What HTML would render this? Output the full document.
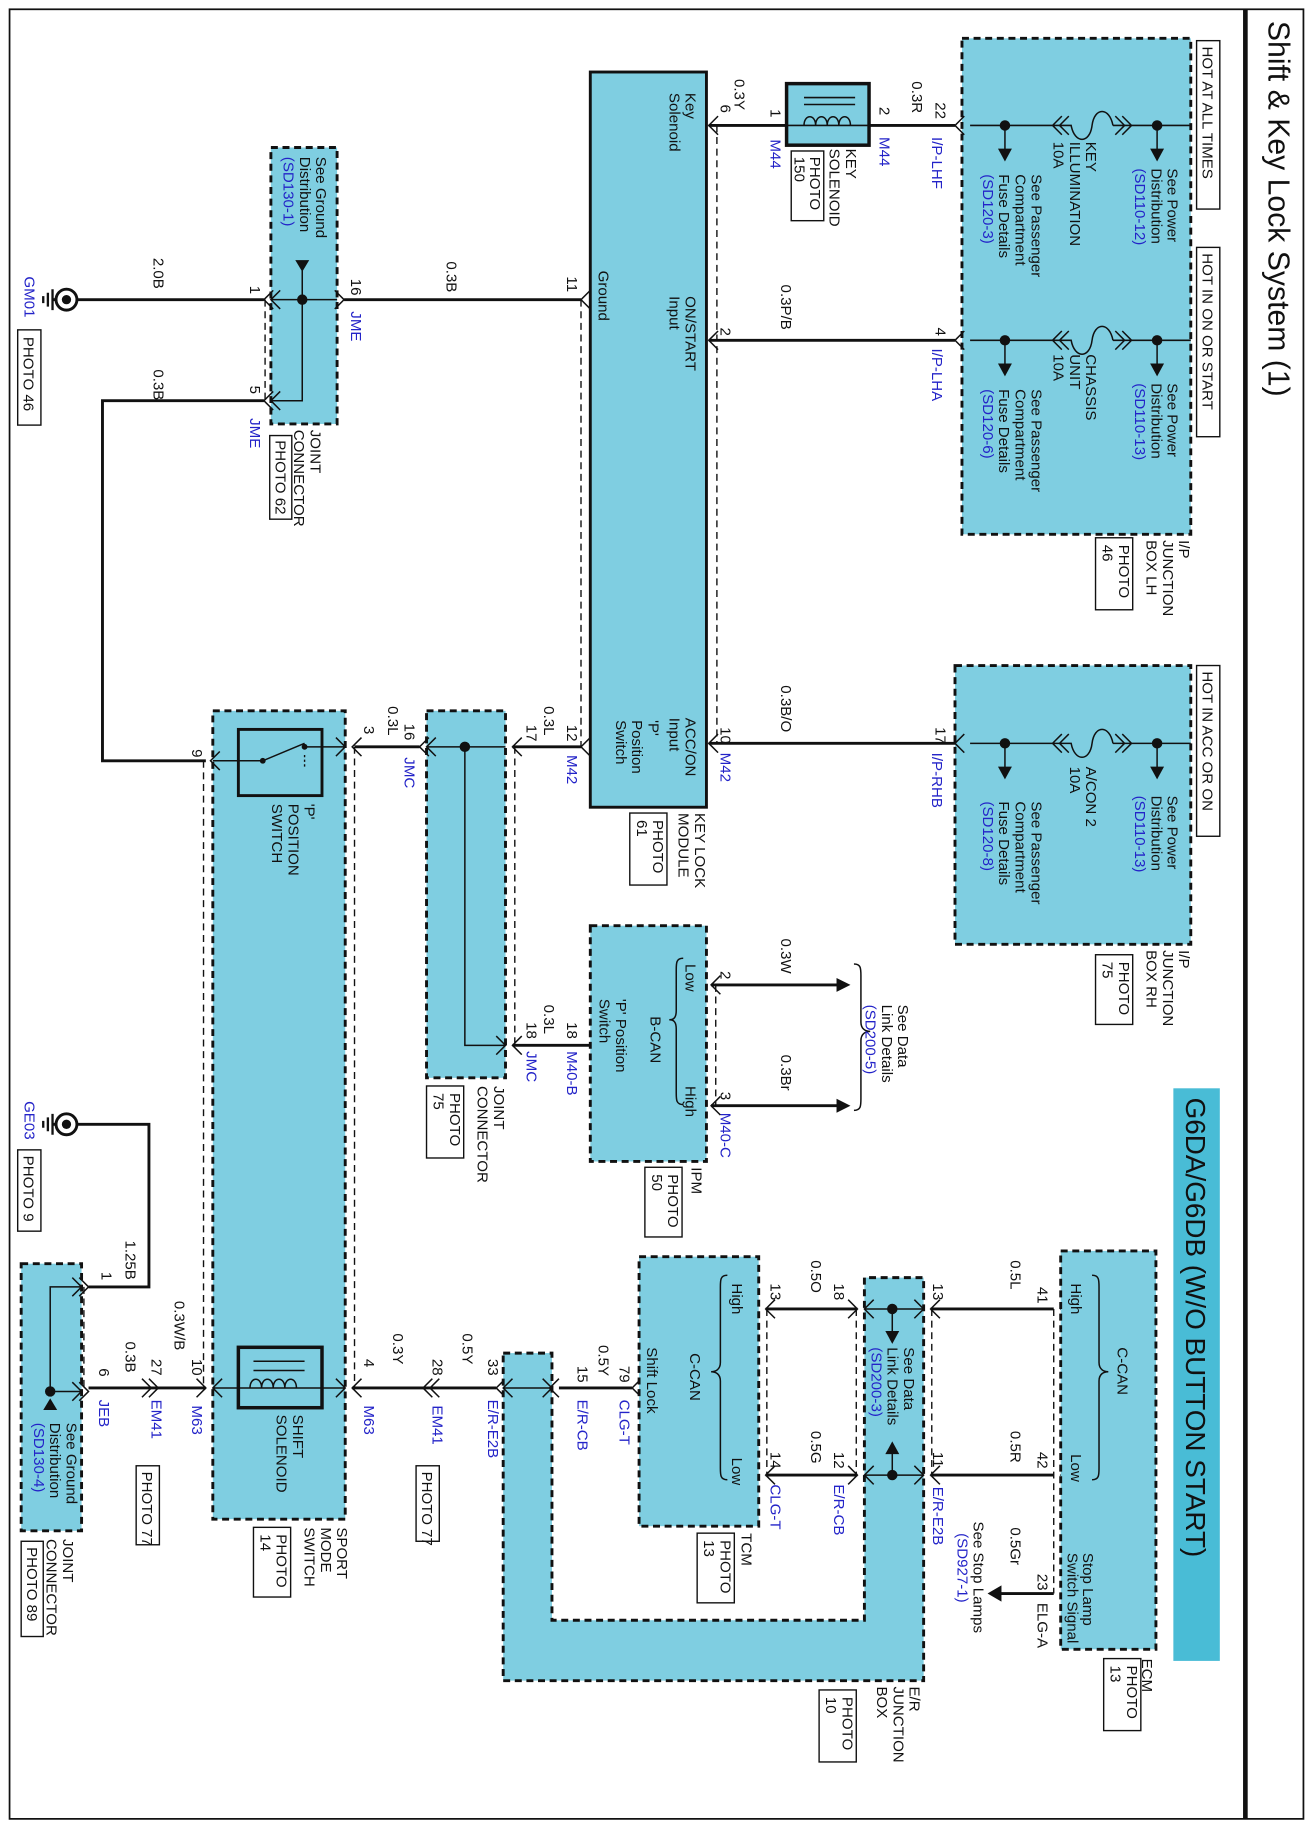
<!DOCTYPE html>
<html><head><meta charset="utf-8"><style>
html,body{margin:0;padding:0;background:#fff;width:1313px;height:1827px;overflow:hidden;position:relative}
svg{display:block;position:absolute;left:0;top:0}
text{font-family:"Liberation Sans",Arial,sans-serif;font-size:13px;fill:#111}
.b{fill:#2323c8}
.t{fill:#7fcee1;stroke:#111;stroke-width:2.5;stroke-dasharray:6 4}
.s{fill:#7fcee1;stroke:#111;stroke-width:2.5}
.w{fill:none;stroke:#111;stroke-width:2.5}
.n{fill:none;stroke:#111;stroke-width:1.3}
.d{fill:none;stroke:#111;stroke-width:1.2;stroke-dasharray:6 4}
.bx{fill:#fff;stroke:#111;stroke-width:1.2}
</style></head><body>
<svg width="1313" height="1827" viewBox="0 0 1130 1573" xmlns="http://www.w3.org/2000/svg" overflow="hidden">
<rect x="8" y="8" width="1114" height="1558" fill="none" stroke="#111" stroke-width="1.5"/>
<line x1="1072" y1="8" x2="1072" y2="1566" stroke="#111" stroke-width="4"/>
<text transform="translate(1092 18) rotate(90)" style="font-size:26px">Shift &amp; Key Lock System (1)</text>
<text transform="translate(1092 1690) rotate(90)" style="font-size:26px">SD452-1</text>
<rect x="1010" y="937" width="40" height="493" fill="#49bcd6"/>
<text transform="translate(1021 945) rotate(90)" style="font-size:24px">G6DA/G6DB (W/O BUTTON START)</text>

<!-- JB LH -->
<rect class="t" x="828" y="33" width="197" height="427"/>
<rect class="bx" x="1030" y="35" width="20" height="145"/>
<text transform="translate(1035 40) rotate(90)">HOT AT ALL TIMES</text>
<rect class="bx" x="1030" y="213" width="20" height="163"/>
<text transform="translate(1035 218) rotate(90)">HOT IN ON OR START</text>
<g id="fz">
<path class="n" d="M1025 108H975M966 100l8 8-8 8M960 100l8 8-8 8M975 108H958M958 108C955 92 942 92 940 108C938 124 925 124 922 108H905M914 100l-8 8 8 8M920 100l-8 8 8 8M905 108H835"/>
<circle cx="996" cy="108" r="4.5" fill="#111"/><path class="n" d="M996 108V130"/><path d="M990 128h12l-6 11z" fill="#111"/>
<circle cx="865" cy="108" r="4.5" fill="#111"/><path class="n" d="M865 108V130"/><path d="M859 128h12l-6 11z" fill="#111"/>
</g>
<use href="#fz" transform="translate(0 185)"/>
<text transform="translate(1005 145) rotate(90)">See Power<tspan x="0" dy="14">Distribution</tspan><tspan class="b" x="0" dy="14">(SD110-12)</tspan></text>
<text transform="translate(935 122) rotate(90)">KEY<tspan x="0" dy="14">ILLUMINATION</tspan><tspan x="0" dy="14">10A</tspan></text>
<text transform="translate(888 150) rotate(90)">See Passenger<tspan x="0" dy="14">Compartment</tspan><tspan x="0" dy="14">Fuse Details</tspan><tspan class="b" x="0" dy="14">(SD120-3)</tspan></text>
<text transform="translate(1005 330) rotate(90)">See Power<tspan x="0" dy="14">Distribution</tspan><tspan class="b" x="0" dy="14">(SD110-13)</tspan></text>
<text transform="translate(935 305) rotate(90)">CHASSIS<tspan x="0" dy="14">UNIT</tspan><tspan x="0" dy="14">10A</tspan></text>
<text transform="translate(888 335) rotate(90)">See Passenger<tspan x="0" dy="14">Compartment</tspan><tspan x="0" dy="14">Fuse Details</tspan><tspan class="b" x="0" dy="14">(SD120-6)</tspan></text>
<text transform="translate(1015 465) rotate(90)">I/P<tspan x="0" dy="14">JUNCTION</tspan><tspan x="0" dy="14">BOX LH</tspan></text>
<rect class="bx" x="943" y="463" width="32" height="62"/>
<text transform="translate(963 469) rotate(90)">PHOTO<tspan x="0" dy="14">46</tspan></text>

<!-- JB RH -->
<rect class="t" x="822" y="573" width="203" height="240"/>
<use href="#fz" transform="translate(0 532)"/>
<rect class="bx" x="1030" y="573" width="20" height="147"/>
<text transform="translate(1035 578) rotate(90)">HOT IN ACC OR ON</text>
<text transform="translate(1005 685) rotate(90)">See Power<tspan x="0" dy="14">Distribution</tspan><tspan class="b" x="0" dy="14">(SD110-13)</tspan></text>
<text transform="translate(935 660) rotate(90)">A/CON 2<tspan x="0" dy="14">10A</tspan></text>
<text transform="translate(888 690) rotate(90)">See Passenger<tspan x="0" dy="14">Compartment</tspan><tspan x="0" dy="14">Fuse Details</tspan><tspan class="b" x="0" dy="14">(SD120-8)</tspan></text>
<text transform="translate(1015 818) rotate(90)">I/P<tspan x="0" dy="14">JUNCTION</tspan><tspan x="0" dy="14">BOX RH</tspan></text>
<rect class="bx" x="943" y="822" width="32" height="60"/>
<text transform="translate(963 828) rotate(90)">PHOTO<tspan x="0" dy="14">75</tspan></text>

<!-- Key lock module -->
<rect class="s" x="508" y="62" width="100" height="633"/>
<path class="w" d="M610 108H677M748 108H822M610 293H822M610 640H822M500 258H296M500 643H441M227 258H65M227 345H88V655H177"/>
<path class="n" d="M618 100l-8 8 8 8M830 100l-8 8 8 8M685 100l-8 8 8 8M740 100l8 8-8 8M618 285l-8 8 8 8M830 285l-8 8 8 8M618 632l-8 8 8 8M830 632l-8 8 8 8M508 250l-8 8 8 8M508 635l-8 8 8 8"/>
<path class="d" d="M617 108V640M500 258V643"/>
<text transform="translate(590 80) rotate(90)">Key<tspan x="0" dy="14">Solenoid</tspan></text>
<text transform="translate(515 233) rotate(90)">Ground</text>
<text transform="translate(590 255) rotate(90)">ON/START<tspan x="0" dy="14">Input</tspan></text>
<text transform="translate(590 618) rotate(90)">ACC/ON<tspan x="0" dy="14">Input</tspan></text>
<text transform="translate(558 620) rotate(90)">'P'<tspan x="0" dy="14">Position</tspan><tspan x="0" dy="14">Switch</tspan></text>
<text transform="translate(598 700) rotate(90)">KEY LOCK<tspan x="0" dy="14">MODULE</tspan></text>
<rect class="bx" x="542" y="700" width="32" height="62"/>
<text transform="translate(562 706) rotate(90)">PHOTO<tspan x="0" dy="14">61</tspan></text>
<text transform="translate(805 88) rotate(90)">22</text>
<text transform="translate(785 70) rotate(90)">0.3R</text>
<text class="b" transform="translate(802 118) rotate(90)">I/P-LHF</text>
<text transform="translate(757 92) rotate(90)">2</text>
<text class="b" transform="translate(757 118) rotate(90)">M44</text>
<text transform="translate(663 94) rotate(90)">1</text>
<text class="b" transform="translate(663 120) rotate(90)">M44</text>
<text transform="translate(632 68) rotate(90)">0.3Y</text>
<text transform="translate(620 90) rotate(90)">6</text>
<text transform="translate(620 282) rotate(90)">2</text>
<text transform="translate(672 245) rotate(90)">0.3P/B</text>
<text transform="translate(805 282) rotate(90)">4</text>
<text class="b" transform="translate(802 300) rotate(90)">I/P-LHA</text>
<text transform="translate(488 238) rotate(90)">11</text>
<text transform="translate(384 225) rotate(90)">0.3B</text>
<text transform="translate(620 626) rotate(90)">10</text>
<text class="b" transform="translate(620 648) rotate(90)">M42</text>
<text transform="translate(672 590) rotate(90)">0.3B/O</text>
<text transform="translate(805 626) rotate(90)">17</text>
<text class="b" transform="translate(802 648) rotate(90)">I/P-RHB</text>
<text transform="translate(488 624) rotate(90)">12</text>
<text class="b" transform="translate(488 650) rotate(90)">M42</text>
<text transform="translate(453 624) rotate(90)">17</text>
<text transform="translate(468 608) rotate(90)">0.3L</text>

<!-- key solenoid -->
<rect x="677" y="72" width="71" height="53" fill="#7fcee1" stroke="#111" stroke-width="3"/>
<path class="n" d="M677 108H748M692 108c0-10 10-10 10 0c0-10 10-10 10 0c0-10 10-10 10 0c0-10 10-10 10 0M692 84H736M692 90H736"/>
<text transform="translate(728 128) rotate(90)">KEY<tspan x="0" dy="14">SOLENOID</tspan></text>
<rect class="bx" x="681" y="130" width="28" height="60"/>
<text transform="translate(697 135) rotate(90)">PHOTO<tspan x="0" dy="13">150</tspan></text>

<!-- JME -->
<rect class="t" x="233" y="127" width="57" height="238"/>
<path class="n" d="M290 258H233M260 258V345H233M260 258V232M288 250l8 8-8 8M241 250l-8 8 8 8M241 337l-8 8 8 8M235 250l-8 8 8 8M235 337l-8 8 8 8"/>
<path class="d" d="M228 258V345"/>
<circle cx="260" cy="258" r="4.5" fill="#111"/><path d="M254 224h12l-6 10z" fill="#111"/>
<text transform="translate(272 135) rotate(90)">See Ground<tspan x="0" dy="14">Distribution</tspan><tspan class="b" x="0" dy="14">(SD130-1)</tspan></text>
<text transform="translate(302 240) rotate(90)">16</text>
<text class="b" transform="translate(302 268) rotate(90)">JME</text>
<text transform="translate(215 246) rotate(90)">1</text>
<text transform="translate(215 332) rotate(90)">5</text>
<text class="b" transform="translate(215 360) rotate(90)">JME</text>
<text transform="translate(132 222) rotate(90)">2.0B</text>
<text transform="translate(132 318) rotate(90)">0.3B</text>
<text transform="translate(267 370) rotate(90)">JOINT<tspan x="0" dy="14">CONNECTOR</tspan></text>
<rect class="bx" x="232" y="375" width="19" height="72"/>
<text transform="translate(237 379) rotate(90)">PHOTO 62</text>

<!-- grounds -->
<g id="gnd"><circle cx="57" cy="258" r="9" fill="#fff" stroke="#111" stroke-width="2.5"/><circle cx="57" cy="258" r="4" fill="#111"/>
<path class="w" d="M48 258H45" /><path stroke="#111" stroke-width="2" d="M45 249V267M41 252V264M37 255V261"/></g>
<text class="b" transform="translate(21 238) rotate(90)">GM01</text>
<rect class="bx" x="15" y="284" width="20" height="82"/>
<text transform="translate(20 290) rotate(90)">PHOTO 46</text>
<use href="#gnd" transform="translate(0 710)"/>
<text class="b" transform="translate(21 948) rotate(90)">GE03</text>
<rect class="bx" x="15" y="990" width="20" height="70"/>
<text transform="translate(20 995) rotate(90)">PHOTO 9</text>

<!-- JMC -->
<rect class="t" x="367" y="612" width="68" height="316"/>
<path class="n" d="M435 643H367M400 643V900H435M427 892l8 8-8 8M375 635l-8 8 8 8"/>
<circle cx="400" cy="643" r="4.5" fill="#111"/>
<path class="w" d="M361 643H305M441 900H508"/>
<path class="n" d="M449 635l-8 8 8 8M449 892l-8 8 8 8M369 635l-8 8 8 8M516 892l-8 8 8 8M311 635l-8 8 8 8"/>
<path class="d" d="M443 643V900"/>
<text transform="translate(348 623) rotate(90)">16</text>
<text class="b" transform="translate(348 652) rotate(90)">JMC</text>
<text transform="translate(334 608) rotate(90)">0.3L</text>
<text transform="translate(313 625) rotate(90)">3</text>
<text transform="translate(453 880) rotate(90)">18</text>
<text class="b" transform="translate(453 905) rotate(90)">JMC</text>
<text transform="translate(468 865) rotate(90)">0.3L</text>
<text transform="translate(488 880) rotate(90)">18</text>
<text class="b" transform="translate(488 905) rotate(90)">M40-B</text>
<text transform="translate(425 935) rotate(90)">JOINT<tspan x="0" dy="14">CONNECTOR</tspan></text>
<rect class="bx" x="367" y="935" width="32" height="62"/>
<text transform="translate(387 941) rotate(90)">PHOTO<tspan x="0" dy="14">75</tspan></text>

<!-- IPM -->
<rect class="t" x="508" y="797" width="100" height="203"/>
<path class="w" d="M612 848H722M612 952H722"/>
<path d="M720 842v12l12-6zM720 946v12l12-6z" fill="#111"/>
<path class="n" d="M620 840l-8 8 8 8M620 944l-8 8 8 8M735 830c6 0 6 4 6 10v40c0 6 4 8 8 8c-4 0-8 2-8 8v50c0 6 0 10-6 10M588 825c-6 0-6 4-6 10v35c0 6-2 8-6 8c4 0 6 2 6 8v55c0 6 0 10 6 10"/>
<path class="d" d="M616 848V952"/>
<text transform="translate(620 836) rotate(90)">2</text>
<text transform="translate(620 940) rotate(90)">3</text>
<text class="b" transform="translate(620 958) rotate(90)">M40-C</text>
<text transform="translate(672 808) rotate(90)">0.3W</text>
<text transform="translate(672 908) rotate(90)">0.3Br</text>
<text transform="translate(773 865) rotate(90)">See Data<tspan x="0" dy="14">Link Details</tspan><tspan class="b" x="0" dy="14">(SD200-5)</tspan></text>
<text transform="translate(590 830) rotate(90)">Low</text>
<text transform="translate(560 875) rotate(90)">B-CAN</text>
<text transform="translate(590 935) rotate(90)">High</text>
<text transform="translate(530 860) rotate(90)">'P' Position<tspan x="0" dy="14">Switch</tspan></text>
<text transform="translate(595 1005) rotate(90)">IPM</text>
<rect class="bx" x="555" y="1005" width="32" height="60"/>
<text transform="translate(575 1011) rotate(90)">PHOTO<tspan x="0" dy="14">50</tspan></text>

<!-- Sport mode switch -->
<rect class="t" x="183" y="612" width="114" height="696"/>
<path class="d" d="M175 655V1195M305 643V1195"/>
<rect x="205" y="628" width="72" height="57" fill="none" stroke="#111" stroke-width="2.5"/>
<path class="n" d="M183 655H226L262 640M297 643H262M189 647l-8 8 8 8M289 635l8 8-8 8"/>
<circle cx="226" cy="655" r="2.5" fill="#111"/><circle cx="262" cy="643" r="2.5" fill="#111"/>
<path stroke="#111" stroke-width="1.2" stroke-dasharray="2 2" fill="none" d="M262 650V662"/>
<text transform="translate(262 692) rotate(90)">'P'<tspan x="0" dy="14">POSITION</tspan><tspan x="0" dy="14">SWITCH</tspan></text>
<rect x="205" y="1160" width="72" height="52" fill="none" stroke="#111" stroke-width="3"/>
<path class="n" d="M183 1195H297M215 1195c0-10 10-10 10 0c0-10 10-10 10 0c0-10 10-10 10 0c0-10 10-10 10 0M218 1172H262M218 1180H262M191 1187l-8 8 8 8M289 1187l8 8-8 8"/>
<text transform="translate(252 1218) rotate(90)">SHIFT<tspan x="0" dy="14">SOLENOID</tspan></text>
<text transform="translate(290 1315) rotate(90)">SPORT<tspan x="0" dy="14">MODE</tspan><tspan x="0" dy="14">SWITCH</tspan></text>
<rect class="bx" x="218" y="1315" width="32" height="60"/>
<text transform="translate(238 1321) rotate(90)">PHOTO<tspan x="0" dy="14">14</tspan></text>
<text transform="translate(165 645) rotate(90)">9</text>
<path class="w" d="M76 1195H177M303 1195H427"/>
<path class="n" d="M169 1187l8 8-8 8M311 1187l-8 8 8 8M122 1187l8 8-8 8M128 1187l8 8-8 8M378 1187l-8 8 8 8M372 1187l-8 8 8 8M435 1187l-8 8 8 8"/>
<text transform="translate(313 1170) rotate(90)">4</text>
<text class="b" transform="translate(313 1210) rotate(90)">M63</text>
<text transform="translate(338 1148) rotate(90)">0.3Y</text>
<text transform="translate(372 1170) rotate(90)">28</text>
<text class="b" transform="translate(372 1210) rotate(90)">EM41</text>
<rect class="bx" x="358" y="1262" width="20" height="65"/>
<text transform="translate(363 1267) rotate(90)">PHOTO 77</text>
<text transform="translate(398 1148) rotate(90)">0.5Y</text>
<text transform="translate(420 1170) rotate(90)">33</text>
<text class="b" transform="translate(420 1205) rotate(90)">E/R-E2B</text>
<text transform="translate(165 1170) rotate(90)">10</text>
<text class="b" transform="translate(165 1210) rotate(90)">M63</text>
<text transform="translate(150 1120) rotate(90)">0.3W/B</text>
<text transform="translate(130 1170) rotate(90)">27</text>
<text class="b" transform="translate(130 1205) rotate(90)">EM41</text>
<rect class="bx" x="117" y="1262" width="20" height="68"/>
<text transform="translate(122 1267) rotate(90)">PHOTO 77</text>
<text transform="translate(108 1155) rotate(90)">0.3B</text>
<text transform="translate(85 1178) rotate(90)">6</text>
<text class="b" transform="translate(85 1205) rotate(90)">JEB</text>

<!-- JEB -->
<rect class="t" x="18" y="1088" width="52" height="230"/>
<path class="n" d="M43 1198H70M43 1198V1108H70M62 1100l8 8-8 8M62 1190l8 8-8 8M68 1100l8 8-8 8M68 1190l8 8-8 8"/>
<circle cx="43" cy="1198" r="4.5" fill="#111"/><path d="M37 1214h12l-6-10z" fill="#111"/>
<path class="w" d="M76 1108H128V968H66"/>
<path class="d" d="M72 1108V1198"/>
<text transform="translate(108 1068) rotate(90)">1.25B</text>
<text transform="translate(87 1095) rotate(90)">1</text>
<text transform="translate(57 1225) rotate(90)">See Ground<tspan x="0" dy="14">Distribution</tspan><tspan class="b" x="0" dy="14">(SD130-4)</tspan></text>
<text transform="translate(54 1325) rotate(90)">JOINT<tspan x="0" dy="14">CONNECTOR</tspan></text>
<rect class="bx" x="18" y="1327" width="19" height="82"/>
<text transform="translate(23 1332) rotate(90)">PHOTO 89</text>

<!-- E/R junction box -->
<path class="t" d="M433 1165H475V1395H744V1100H795V1447H433Z"/>
<path class="n" d="M433 1195H475M441 1187l-8 8 8 8M467 1187l8 8-8 8M744 1127H795M744 1270H795M752 1119l-8 8 8 8M752 1262l-8 8 8 8M787 1119l8 8-8 8M787 1262l8 8-8 8M768 1127V1150M768 1270V1248"/>
<circle cx="768" cy="1127" r="4.5" fill="#111"/><circle cx="768" cy="1270" r="4.5" fill="#111"/>
<path d="M762 1146h12l-6 11zM762 1252h12l-6-11z" fill="#111"/>
<path class="w" d="M801 1127H907M801 1270H907M738 1127H659M738 1270H659M544 1195H481M907 1372H860"/>
<path d="M862 1365v14l-12-7z" fill="#111"/>
<path class="n" d="M809 1119l-8 8 8 8M809 1262l-8 8 8 8M730 1119l8 8-8 8M730 1262l8 8-8 8M667 1119l-8 8 8 8M667 1262l-8 8 8 8M921 1119l-8 8 8 8M921 1262l-8 8 8 8M921 1364l-8 8 8 8M552 1187l-8 8 8 8M481 1187l-8 8 8 8"/>
<path class="d" d="M660 1127V1270M737 1127V1270M802 1127V1270M907 1127V1372"/>
<text transform="translate(778 1160) rotate(90)">See Data<tspan x="0" dy="14">Link Details</tspan><tspan class="b" x="0" dy="14">(SD200-3)</tspan></text>
<text transform="translate(803 1105) rotate(90)">13</text>
<text transform="translate(870 1085) rotate(90)">0.5L</text>
<text transform="translate(893 1108) rotate(90)">41</text>
<text transform="translate(803 1250) rotate(90)">11</text>
<text class="b" transform="translate(803 1280) rotate(90)">E/R-E2B</text>
<text transform="translate(870 1232) rotate(90)">0.5R</text>
<text transform="translate(893 1250) rotate(90)">42</text>
<text transform="translate(718 1105) rotate(90)">18</text>
<text transform="translate(698 1085) rotate(90)">0.5O</text>
<text transform="translate(663 1105) rotate(90)">13</text>
<text transform="translate(718 1250) rotate(90)">12</text>
<text class="b" transform="translate(718 1278) rotate(90)">E/R-CB</text>
<text transform="translate(698 1232) rotate(90)">0.5G</text>
<text transform="translate(663 1250) rotate(90)">14</text>
<text class="b" transform="translate(663 1278) rotate(90)">CLG-T</text>
<text transform="translate(783 1452) rotate(90)">E/R<tspan x="0" dy="14">JUNCTION</tspan><tspan x="0" dy="14">BOX</tspan></text>
<rect class="bx" x="705" y="1455" width="32" height="62"/>
<text transform="translate(725 1461) rotate(90)">PHOTO<tspan x="0" dy="14">10</tspan></text>

<!-- ECM -->
<rect class="t" x="913" y="1077" width="82" height="343"/>
<path class="n" d="M940 1098c6 0 6 4 6 10v65c0 6 4 8 8 8c-4 0-8 2-8 8v75c0 6 0 10-6 10"/>
<text transform="translate(922 1105) rotate(90)">High</text>
<text transform="translate(962 1160) rotate(90)">C-CAN</text>
<text transform="translate(922 1252) rotate(90)">Low</text>
<text transform="translate(932 1337) rotate(90)">Stop Lamp<tspan x="0" dy="13">Switch Signal</tspan></text>
<text transform="translate(893 1355) rotate(90)">23</text>
<text transform="translate(893 1380) rotate(90)">ELG-A</text>
<text transform="translate(870 1315) rotate(90)">0.5Gr</text>
<text transform="translate(838 1310) rotate(90)">See Stop Lamps<tspan class="b" x="10" dy="14">(SD927-1)</tspan></text>
<text transform="translate(983 1428) rotate(90)">ECM</text>
<rect class="bx" x="950" y="1428" width="32" height="62"/>
<text transform="translate(970 1434) rotate(90)">PHOTO<tspan x="0" dy="14">13</tspan></text>

<!-- TCM -->
<rect class="t" x="550" y="1082" width="103" height="232"/>
<path class="n" d="M626 1098c-6 0-6 4-6 10v65c0 6-4 8-8 8c4 0 8 2 8 8v75c0 6 0 10 6 10"/>
<text transform="translate(630 1105) rotate(90)">High</text>
<text transform="translate(594 1165) rotate(90)">C-CAN</text>
<text transform="translate(630 1255) rotate(90)">Low</text>
<text transform="translate(557 1160) rotate(90)">Shift Lock</text>
<text transform="translate(533 1176) rotate(90)">79</text>
<text class="b" transform="translate(533 1205) rotate(90)">CLG-T</text>
<text transform="translate(515 1158) rotate(90)">0.5Y</text>
<text transform="translate(497 1176) rotate(90)">15</text>
<text class="b" transform="translate(497 1205) rotate(90)">E/R-CB</text>
<text transform="translate(638 1320) rotate(90)">TCM</text>
<rect class="bx" x="600" y="1320" width="32" height="60"/>
<text transform="translate(620 1326) rotate(90)">PHOTO<tspan x="0" dy="14">13</tspan></text>
</svg>
</body></html>
